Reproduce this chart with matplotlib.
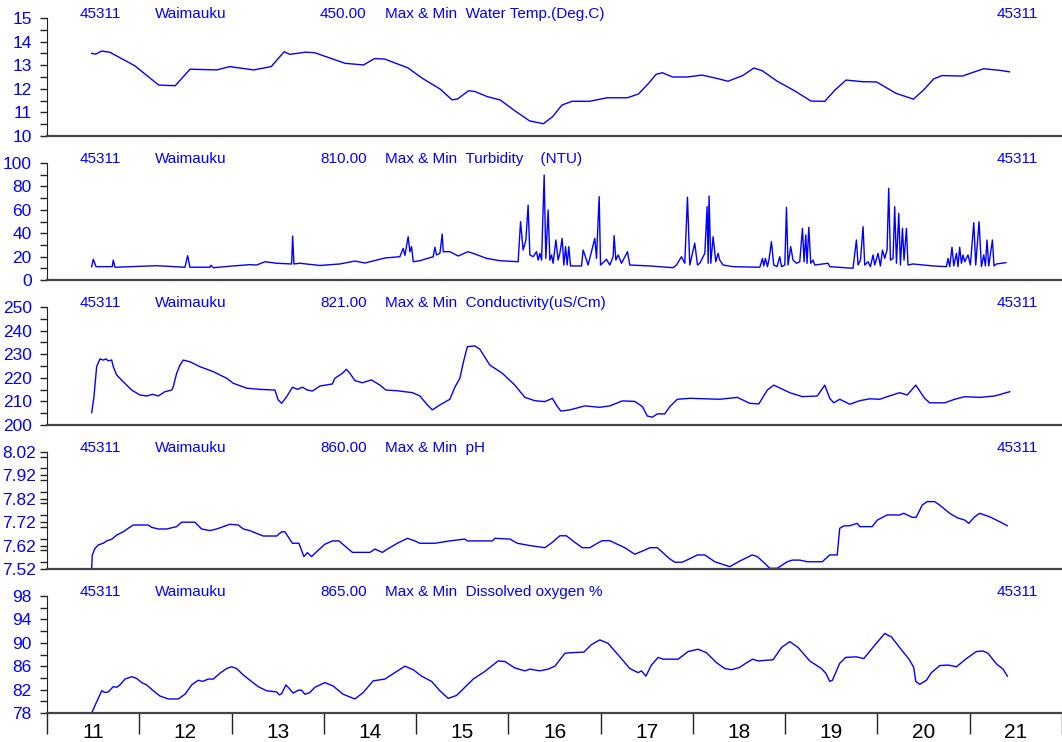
import matplotlib
matplotlib.use("Agg")
import matplotlib.pyplot as plt
from matplotlib.transforms import blended_transform_factory
from matplotlib.ticker import MultipleLocator, FixedLocator, NullFormatter

plt.rcParams['font.family'] = ['Liberation Sans', 'DejaVu Sans']

BLUE = '#0000ff'

# ---- data (time in days of month) ----
day_labels = ['11', '12', '13', '14', '15', '16', '17', '18', '19', '20', '21']

temp_t = [11.484, 11.53, 11.59, 11.68, 11.95, 12.21, 12.39, 12.55, 12.84, 12.98, 13.24, 13.43,
          13.57, 13.63, 13.80, 13.90, 14.23, 14.43, 14.55, 14.66, 14.91, 15.07, 15.26, 15.39,
          15.45, 15.57, 15.64, 15.77, 15.91, 16.07, 16.23, 16.38, 16.48, 16.58, 16.69, 16.88,
          17.07, 17.29, 17.41, 17.52, 17.60, 17.67, 17.78, 17.94, 18.10, 18.26, 18.38, 18.54,
          18.66, 18.75, 18.91, 19.10, 19.28, 19.43, 19.54, 19.66, 19.84, 19.99, 20.20, 20.39,
          20.50, 20.61, 20.70, 20.92, 21.15, 21.33, 21.43]
temp_v = [13.50, 13.47, 13.60, 13.55, 12.98, 12.16, 12.13, 12.83, 12.80, 12.94, 12.80, 12.94,
          13.57, 13.46, 13.55, 13.53, 13.08, 13.01, 13.28, 13.26, 12.89, 12.44, 11.99, 11.53,
          11.57, 11.92, 11.88, 11.67, 11.53, 11.07, 10.64, 10.52, 10.82, 11.31, 11.47, 11.47,
          11.62, 11.62, 11.78, 12.23, 12.61, 12.68, 12.50, 12.50, 12.58, 12.44, 12.32, 12.56,
          12.88, 12.77, 12.33, 11.92, 11.48, 11.47, 11.95, 12.37, 12.30, 12.29, 11.81, 11.56,
          11.95, 12.42, 12.56, 12.54, 12.85, 12.78, 12.72]

turb_t = [11.484, 11.502, 11.531, 11.707, 11.718, 11.737, 12.188, 12.495, 12.524, 12.549,
          12.766, 12.777, 12.802, 13.018, 13.199, 13.272, 13.362, 13.489, 13.651, 13.662,
          13.676, 13.741, 13.958, 14.174, 14.337, 14.445, 14.662, 14.803, 14.824, 14.860,
          14.879, 14.914, 14.933, 14.951, 14.969, 15.041, 15.185, 15.204, 15.222, 15.258,
          15.283, 15.294, 15.366, 15.456, 15.564, 15.637, 15.764, 15.908, 16.106, 16.132,
          16.160, 16.190, 16.214, 16.233, 16.269, 16.305, 16.323, 16.341, 16.360, 16.388,
          16.406, 16.431, 16.450, 16.468, 16.485, 16.515, 16.539, 16.558, 16.583, 16.601,
          16.620, 16.637, 16.655, 16.674, 16.793, 16.810, 16.829, 16.864, 16.937, 16.955,
          16.984, 16.999, 17.064, 17.099, 17.135, 17.146, 17.165, 17.190, 17.226, 17.291,
          17.316, 17.533, 17.785, 17.822, 17.876, 17.912, 17.941, 17.966, 18.020, 18.050,
          18.075, 18.129, 18.154, 18.165, 18.175, 18.194, 18.219, 18.248, 18.273, 18.291,
          18.327, 18.435, 18.725, 18.754, 18.768, 18.786, 18.808, 18.825, 18.851, 18.876,
          18.912, 18.941, 18.960, 18.996, 19.014, 19.031, 19.060, 19.085, 19.122, 19.158,
          19.187, 19.205, 19.223, 19.237, 19.256, 19.277, 19.302, 19.320, 19.465, 19.483,
          19.735, 19.772, 19.790, 19.816, 19.844, 19.862, 19.898, 19.924, 19.952, 19.971,
          20.006, 20.032, 20.054, 20.079, 20.104, 20.122, 20.141, 20.169, 20.187, 20.206,
          20.231, 20.249, 20.271, 20.288, 20.314, 20.331, 20.385, 20.602, 20.747, 20.765,
          20.783, 20.808, 20.827, 20.856, 20.873, 20.891, 20.910, 20.927, 20.946, 20.981,
          21.007, 21.044, 21.065, 21.101, 21.127, 21.152, 21.170, 21.187, 21.206, 21.246,
          21.263, 21.289, 21.390]
turb_v = [11.4, 17.7, 11.4, 11.4, 17.0, 10.9, 12.2, 10.9, 20.8, 10.9,
          10.9, 12.6, 10.5, 12.0, 13.1, 12.8, 15.6, 14.3, 13.7, 37.6,
          13.7, 14.3, 12.4, 13.7, 16.2, 14.5, 18.8, 19.7, 19.9, 27.0,
          21.0, 37.0, 24.0, 28.5, 15.6, 16.5, 19.9, 28.0, 21.4, 22.8,
          39.3, 24.2, 24.2, 20.5, 24.2, 22.2, 18.5, 16.5, 15.6, 49.8,
          25.6, 34.2, 64.0, 21.4, 19.9, 24.2, 17.0, 22.8, 17.0, 89.7,
          18.5, 59.8, 17.0, 21.4, 14.3, 34.2, 17.0, 22.8, 35.6, 12.8,
          28.5, 12.8, 28.5, 12.0, 12.0, 25.6, 21.4, 12.8, 35.6, 18.5,
          71.2, 12.8, 17.7, 12.8, 19.9, 37.9, 17.0, 21.4, 14.3, 24.2,
          12.8, 12.0, 10.5, 12.8, 19.9, 14.3, 70.7, 12.8, 31.4, 12.8,
          14.3, 22.8, 62.7, 14.3, 71.8, 14.3, 37.0, 15.6, 22.8, 17.0,
          12.8, 11.4, 10.9, 18.5, 12.0, 18.5, 11.4, 17.7, 32.7, 12.8,
          11.4, 19.9, 11.4, 12.8, 62.1, 12.8, 28.5, 17.0, 14.3, 15.6,
          44.2, 15.6, 38.5, 14.3, 45.0, 14.3, 17.0, 12.8, 14.3, 11.4,
          10.0, 34.2, 12.8, 17.0, 45.6, 12.8, 15.6, 11.4, 21.4, 12.8,
          22.8, 12.0, 25.6, 18.5, 25.6, 78.4, 17.0, 18.5, 62.7, 14.3,
          57.0, 12.8, 44.2, 17.0, 44.2, 12.8, 13.7, 12.0, 11.4, 18.5,
          11.4, 28.0, 12.0, 22.8, 11.4, 28.0, 14.3, 21.4, 15.6, 21.4,
          12.8, 49.0, 12.8, 49.8, 11.4, 21.4, 12.0, 34.2, 12.0, 34.2,
          12.0, 13.7, 14.8]

cond_t = [11.484, 11.509, 11.538, 11.574, 11.610, 11.639, 11.664, 11.701, 11.718, 11.755,
          11.827, 11.918, 12.008, 12.080, 12.145, 12.206, 12.278, 12.351, 12.368, 12.405,
          12.441, 12.477, 12.549, 12.658, 12.802, 12.947, 13.018, 13.164, 13.308, 13.470,
          13.506, 13.543, 13.597, 13.660, 13.714, 13.768, 13.822, 13.876, 13.958, 14.093,
          14.120, 14.201, 14.245, 14.283, 14.337, 14.418, 14.516, 14.608, 14.673, 14.797,
          14.960, 15.041, 15.122, 15.177, 15.258, 15.366, 15.420, 15.474, 15.518, 15.556,
          15.637, 15.691, 15.799, 15.935, 16.070, 16.179, 16.287, 16.395, 16.477, 16.531,
          16.569, 16.666, 16.829, 16.991, 17.099, 17.235, 17.370, 17.452, 17.506, 17.560,
          17.614, 17.695, 17.750, 17.831, 17.966, 18.291, 18.481, 18.616, 18.714, 18.806,
          18.876, 19.050, 19.185, 19.348, 19.429, 19.483, 19.526, 19.591, 19.700, 19.808,
          19.916, 20.025, 20.106, 20.241, 20.323, 20.415, 20.512, 20.566, 20.729, 20.837,
          20.946, 21.108, 21.271, 21.433]
cond_v = [205.2, 212.0, 224.7, 228.0, 227.5, 228.0, 227.2, 227.5, 224.7, 221.2,
          218.3, 214.8, 212.7, 212.3, 213.0, 212.3, 214.1, 214.8, 216.2, 221.9,
          225.4, 227.5, 226.8, 224.7, 222.6, 219.8, 217.7, 215.6, 215.1, 214.8,
          210.6, 209.2, 212.0, 216.0, 215.1, 216.0, 214.8, 214.4, 216.5, 217.4,
          219.8, 221.9, 223.6, 221.9, 218.8, 217.9, 219.1, 216.9, 214.8, 214.5,
          213.7, 212.3, 208.5, 206.4, 208.5, 210.9, 216.0, 219.8, 227.5, 233.2,
          233.5, 232.1, 225.4, 221.9, 216.9, 211.7, 210.3, 209.9, 211.3, 207.8,
          205.9, 206.4, 208.1, 207.5, 208.1, 210.2, 210.0, 207.8, 203.8, 203.3,
          204.7, 204.7, 207.8, 210.9, 211.3, 210.9, 211.7, 209.2, 208.9, 214.8,
          216.9, 213.7, 212.0, 212.3, 216.9, 211.3, 209.4, 210.9, 208.8, 210.3,
          211.1, 210.9, 212.0, 213.7, 212.7, 216.9, 211.3, 209.4, 209.4, 210.9,
          212.0, 211.7, 212.3, 214.1]

ph_t = [11.484, 11.491, 11.520, 11.556, 11.610, 11.647, 11.701, 11.755, 11.827, 11.881,
        11.935, 12.097, 12.134, 12.206, 12.297, 12.405, 12.459, 12.603, 12.676, 12.766,
        12.839, 12.983, 13.073, 13.127, 13.199, 13.272, 13.343, 13.489, 13.543, 13.578,
        13.660, 13.730, 13.784, 13.822, 13.866, 13.931, 14.012, 14.093, 14.164, 14.310,
        14.499, 14.554, 14.635, 14.689, 14.797, 14.906, 14.987, 15.041, 15.204, 15.366,
        15.529, 15.556, 15.826, 15.854, 16.016, 16.097, 16.233, 16.395, 16.477, 16.558,
        16.628, 16.720, 16.802, 16.883, 16.964, 17.018, 17.099, 17.262, 17.370, 17.479,
        17.533, 17.614, 17.750, 17.804, 17.885, 17.977, 18.048, 18.129, 18.237, 18.345,
        18.400, 18.508, 18.643, 18.698, 18.779, 18.833, 18.914, 19.023, 19.077, 19.158,
        19.239, 19.402, 19.483, 19.564, 19.591, 19.635, 19.700, 19.781, 19.808, 19.943,
        19.998, 20.106, 20.241, 20.285, 20.377, 20.420, 20.485, 20.539, 20.621, 20.675,
        20.783, 20.864, 20.946, 20.989, 21.054, 21.108, 21.217, 21.325, 21.406]
ph_v = [7.523, 7.580, 7.608, 7.623, 7.630, 7.640, 7.647, 7.665, 7.679, 7.694,
        7.708, 7.708, 7.698, 7.691, 7.691, 7.701, 7.720, 7.720, 7.691, 7.684,
        7.691, 7.711, 7.708, 7.691, 7.684, 7.672, 7.661, 7.661, 7.679, 7.679,
        7.630, 7.630, 7.573, 7.590, 7.573, 7.597, 7.626, 7.640, 7.640, 7.591,
        7.591, 7.605, 7.591, 7.605, 7.630, 7.651, 7.640, 7.630, 7.630, 7.640,
        7.648, 7.640, 7.640, 7.651, 7.648, 7.630, 7.620, 7.611, 7.634, 7.662,
        7.662, 7.634, 7.611, 7.611, 7.630, 7.641, 7.641, 7.611, 7.583, 7.601,
        7.611, 7.611, 7.563, 7.549, 7.549, 7.566, 7.580, 7.580, 7.551, 7.537,
        7.530, 7.554, 7.580, 7.573, 7.544, 7.523, 7.523, 7.551, 7.558, 7.558,
        7.551, 7.551, 7.580, 7.580, 7.694, 7.704, 7.705, 7.715, 7.701, 7.701,
        7.729, 7.751, 7.751, 7.758, 7.741, 7.741, 7.793, 7.808, 7.808, 7.793,
        7.758, 7.739, 7.729, 7.715, 7.743, 7.758, 7.743, 7.722, 7.705]

do_t = [11.484, 11.538, 11.593, 11.628, 11.664, 11.718, 11.755, 11.791, 11.845, 11.918,
        11.972, 12.026, 12.080, 12.152, 12.224, 12.314, 12.423, 12.495, 12.568, 12.639,
        12.687, 12.748, 12.802, 12.874, 12.947, 13.001, 13.055, 13.127, 13.199, 13.289,
        13.380, 13.489, 13.517, 13.543, 13.589, 13.625, 13.668, 13.723, 13.759, 13.795,
        13.849, 13.904, 14.012, 14.102, 14.210, 14.337, 14.427, 14.535, 14.662, 14.770,
        14.879, 14.969, 15.059, 15.168, 15.258, 15.348, 15.439, 15.529, 15.619, 15.745,
        15.889, 15.962, 16.070, 16.179, 16.233, 16.341, 16.431, 16.504, 16.612, 16.666,
        16.818, 16.901, 16.991, 17.081, 17.208, 17.316, 17.406, 17.443, 17.490, 17.551,
        17.623, 17.677, 17.768, 17.840, 17.948, 18.056, 18.147, 18.256, 18.345, 18.418,
        18.508, 18.573, 18.646, 18.706, 18.869, 18.960, 19.050, 19.140, 19.266, 19.393,
        19.440, 19.483, 19.512, 19.591, 19.656, 19.772, 19.852, 19.971, 20.079, 20.152,
        20.260, 20.342, 20.393, 20.415, 20.458, 20.531, 20.585, 20.675, 20.765, 20.856,
        20.964, 21.072, 21.144, 21.198, 21.289, 21.361, 21.408]
do_v = [78.0, 79.9, 81.8, 81.5, 81.6, 82.5, 82.4, 82.8, 83.8, 84.2,
        83.9, 83.2, 82.8, 81.8, 80.9, 80.4, 80.4, 81.2, 82.8, 83.6,
        83.4, 83.8, 83.8, 84.8, 85.6, 85.9, 85.6, 84.5, 83.6, 82.5,
        81.8, 81.6, 81.1, 81.3, 82.8, 82.2, 81.4, 81.9, 81.9, 81.2,
        81.5, 82.4, 83.2, 82.6, 81.2, 80.4, 81.5, 83.5, 83.8, 84.9,
        86.0, 85.4, 84.3, 83.4, 81.8, 80.5, 81.0, 82.4, 83.8, 85.1,
        86.9, 86.8, 85.7, 85.2, 85.5, 85.2, 85.5, 86.0, 88.2, 88.3,
        88.4, 89.7, 90.5, 89.9, 87.6, 85.6, 84.9, 85.2, 84.3, 86.2,
        87.5, 87.2, 87.2, 87.2, 88.5, 88.9, 88.3, 86.6, 85.6, 85.4,
        85.8, 86.5, 87.2, 86.9, 87.1, 89.2, 90.2, 89.2, 86.9, 85.6,
        84.8, 83.4, 83.6, 86.5, 87.5, 87.6, 87.3, 89.6, 91.6, 91.0,
        88.8, 87.2, 85.8, 83.4, 82.9, 83.6, 84.9, 86.1, 86.2, 85.9,
        87.3, 88.5, 88.6, 88.2, 86.4, 85.5, 84.3]

site_code = '45311'
site_name = 'Waimauku'
panel_codes = ['450.00', '810.00', '821.00', '860.00', '865.00']
panel_titles = ['Max & Min  Water Temp.(Deg.C)', 'Max & Min  Turbidity    (NTU)',
                'Max & Min  Conductivity(uS/Cm)', 'Max & Min  pH',
                'Max & Min  Dissolved oxygen %']

series = [(temp_t, temp_v), (turb_t, turb_v), (cond_t, cond_v), (ph_t, ph_v), (do_t, do_v)]
y_ticks = [[10, 11, 12, 13, 14, 15],
           [0, 20, 40, 60, 80, 100],
           [200, 210, 220, 230, 240, 250],
           [7.52, 7.62, 7.72, 7.82, 7.92, 8.02],
           [78, 82, 86, 90, 94, 98]]
y_fmt = ['{:.0f}', '{:.0f}', '{:.0f}', '{:.2f}', '{:.0f}']
y_pad = [6, 6, 6, 3, 6]

# ---- layout (pixel measurements of the original 1062x742 image) ----
W, H = 1062, 742
fig = plt.figure(figsize=(W / 100, H / 100), dpi=100)
panel_px = [(18, 136), (163, 280), (307, 425), (452, 569), (596, 713)]
left = 47 / W

axes = []
for i, (top, bot) in enumerate(panel_px):
    ax = fig.add_axes([left, 1 - bot / H, 1 - left, (bot - top) / H])
    t, v = series[i]
    ax.plot(t, v, color=BLUE, lw=1.0)
    ax.set_xlim(11, 22)
    ticks = y_ticks[i]
    ax.set_ylim(ticks[0], ticks[-1])
    ax.set_yticks(ticks)
    ax.set_yticklabels([y_fmt[i].format(x) for x in ticks])
    step = ticks[1] - ticks[0]
    ax.yaxis.set_minor_locator(MultipleLocator(step / 2))
    ax.tick_params(axis='y', which='major', length=5, width=1, color='#222222',
                   labelcolor=BLUE, labelsize=12.5, pad=y_pad[i])
    ax.tick_params(axis='y', which='minor', length=5, width=1, color='#222222')
    for s in ['top', 'right']:
        ax.spines[s].set_visible(False)
    ax.spines['left'].set_color('#222222')
    ax.spines['bottom'].set_color('#444444')
    ax.spines['bottom'].set_linewidth(1.6)
    ax.patch.set_alpha(0)

    # header line of each panel
    tr = blended_transform_factory(fig.transFigure, ax.transAxes)
    yh = 1 + 4 / (bot - top)
    hdr = dict(transform=tr, color=BLUE, fontsize=11, va='center', ha='left')
    ax.text(80 / W, yh, site_code, **hdr)
    ax.text(155 / W, yh, site_name, **hdr)
    ax.text(320 / W, yh, panel_codes[i], **hdr)
    ax.text(385 / W, yh, panel_titles[i], **hdr)
    ax.text(997 / W, yh, site_code, **hdr)

    if i < 4:
        ax.set_xticks([])
    else:
        ax.xaxis.set_major_locator(FixedLocator(list(range(11, 23))))
        ax.xaxis.set_major_formatter(NullFormatter())
        ax.xaxis.set_minor_locator(FixedLocator([d + 0.5 for d in range(11, 22)]))
        ax.set_xticklabels(day_labels, minor=True)
        ax.tick_params(axis='x', which='major', direction='out', length=15, width=1,
                       color='#222222')
        ax.tick_params(axis='x', which='minor', length=0, pad=7, labelsize=15,
                       labelcolor='black')
    axes.append(ax)

fig.savefig('out.png', dpi=100)
